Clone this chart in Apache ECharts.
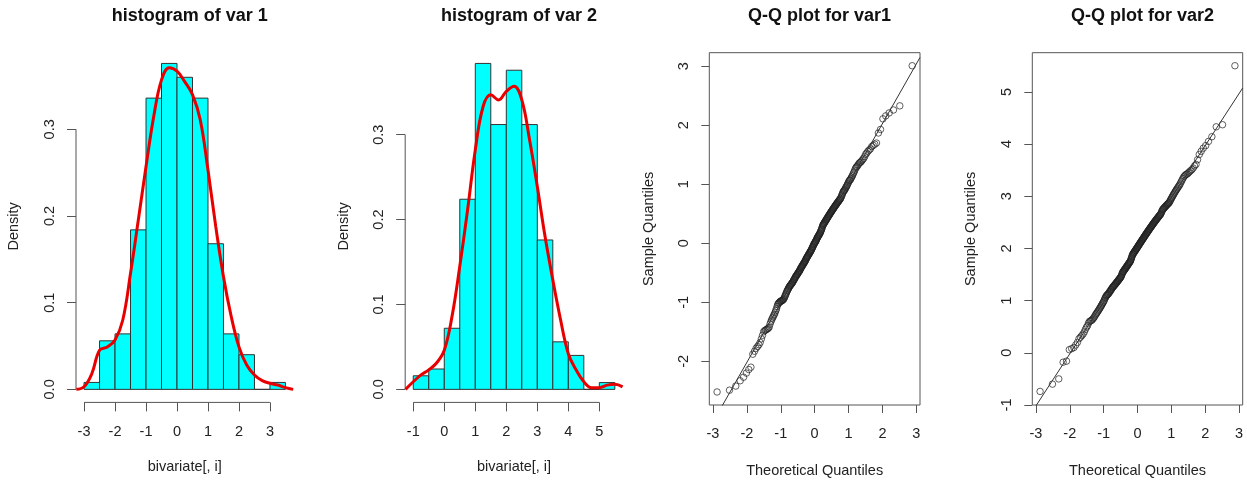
<!DOCTYPE html>
<html>
<head>
<meta charset="UTF-8">
<script src="https://cdn.jsdelivr.net/npm/echarts@6.0.0/dist/echarts.min.js"></script>
<title>histograms and Q-Q plots</title>
<style>
html, body { margin: 0; padding: 0; background: #fff; }
#main { width: 1247px; height: 483px; }
</style>
</head>
<body>
<div id="main"></div>
<script>
// ---- data ----
// histogram bin edges and densities (bin width 0.5)
var breaks1 = [-3, -2.5, -2, -1.5, -1, -0.5, 0, 0.5, 1, 1.5, 2, 2.5, 3, 3.5];
var density1 = [0.008, 0.056, 0.064, 0.184, 0.336, 0.376, 0.36, 0.336, 0.168, 0.064, 0.04, 0, 0.008];
var breaks2 = [-1, -0.5, 0, 0.5, 1, 1.5, 2, 2.5, 3, 3.5, 4, 4.5, 5, 5.5];
var density2 = [0.016, 0.024, 0.072, 0.224, 0.384, 0.312, 0.376, 0.312, 0.176, 0.056, 0.04, 0, 0.008];

// red kernel density curves
var kdeX1 = [-3.25, -3, -2.75, -2.5, -2.25, -2, -1.75, -1.5, -1.25, -1, -0.75, -0.5, -0.25, 0, 0.25, 0.5, 0.75, 1, 1.25, 1.5, 1.75, 2, 2.25, 2.5, 2.75, 3, 3.25, 3.5, 3.75];
var kdeY1 = [0, 0.003, 0.018, 0.045, 0.049, 0.057, 0.08, 0.134, 0.195, 0.257, 0.315, 0.357, 0.371, 0.367, 0.355, 0.34, 0.311, 0.253, 0.188, 0.13, 0.084, 0.049, 0.028, 0.0165, 0.01, 0.007, 0.005, 0.002, 0];
var kdeX2 = [-1.25, -1, -0.75, -0.5, -0.25, 0, 0.25, 0.5, 0.75, 1, 1.25, 1.5, 1.75, 2, 2.25, 2.5, 2.75, 3, 3.25, 3.5, 3.75, 4, 4.25, 4.5, 4.75, 5, 5.25, 5.5, 5.75];
var kdeY2 = [0, 0.009, 0.017, 0.023, 0.031, 0.046, 0.086, 0.145, 0.211, 0.282, 0.333, 0.347, 0.341, 0.351, 0.357, 0.341, 0.294, 0.239, 0.18, 0.129, 0.082, 0.042, 0.023, 0.009, 0.002, 0.002, 0.005, 0.006, 0.003];

// sorted samples shown in the Q-Q plots (250 values each)
var sample1 = [
  -2.52, -2.49, -2.42, -2.33, -2.27, -2.2, -2.14, -2.1, -1.88, -1.83,
  -1.78, -1.75, -1.72, -1.68, -1.62, -1.56, -1.5, -1.48, -1.47, -1.46,
  -1.45, -1.44, -1.42, -1.37, -1.33, -1.3, -1.27, -1.25, -1.22, -1.2,
  -1.17, -1.14, -1.11, -1.07, -1.04, -1.02, -1.01, -1.0, -0.99, -0.98,
  -0.98, -0.97, -0.97, -0.96, -0.95, -0.94, -0.92, -0.9, -0.88, -0.86,
  -0.84, -0.82, -0.8, -0.79, -0.77, -0.76, -0.74, -0.73, -0.72, -0.71,
  -0.7, -0.69, -0.68, -0.67, -0.66, -0.65, -0.63, -0.62, -0.61, -0.6,
  -0.58, -0.57, -0.56, -0.55, -0.54, -0.53, -0.52, -0.51, -0.5, -0.49,
  -0.48, -0.47, -0.46, -0.45, -0.43, -0.42, -0.41, -0.4, -0.39, -0.38,
  -0.37, -0.36, -0.35, -0.34, -0.33, -0.32, -0.31, -0.3, -0.29, -0.27,
  -0.26, -0.25, -0.24, -0.23, -0.22, -0.21, -0.2, -0.19, -0.18, -0.17,
  -0.16, -0.15, -0.14, -0.13, -0.12, -0.11, -0.1, -0.08, -0.07, -0.06,
  -0.05, -0.03, -0.02, -0.01, 0.0, 0.01, 0.02, 0.03, 0.04, 0.05,
  0.06, 0.08, 0.09, 0.1, 0.11, 0.12, 0.13, 0.14, 0.15, 0.16,
  0.17, 0.18, 0.2, 0.21, 0.23, 0.24, 0.26, 0.28, 0.3, 0.31,
  0.32, 0.33, 0.34, 0.35, 0.36, 0.37, 0.38, 0.39, 0.4, 0.41,
  0.42, 0.43, 0.44, 0.45, 0.46, 0.47, 0.48, 0.49, 0.5, 0.51,
  0.52, 0.53, 0.54, 0.55, 0.56, 0.57, 0.58, 0.59, 0.6, 0.61,
  0.62, 0.63, 0.64, 0.65, 0.66, 0.67, 0.68, 0.69, 0.7, 0.71,
  0.72, 0.73, 0.74, 0.75, 0.76, 0.78, 0.8, 0.82, 0.84, 0.86,
  0.88, 0.89, 0.9, 0.91, 0.93, 0.95, 0.96, 0.98, 1.0, 1.02,
  1.04, 1.06, 1.07, 1.08, 1.1, 1.12, 1.14, 1.16, 1.19, 1.21,
  1.24, 1.27, 1.29, 1.3, 1.32, 1.34, 1.36, 1.37, 1.38, 1.4,
  1.42, 1.44, 1.47, 1.51, 1.53, 1.56, 1.58, 1.6, 1.64, 1.66,
  1.68, 1.7, 1.87, 1.93, 2.11, 2.16, 2.21, 2.26, 2.33, 3.01
];
var sample2 = [
  -0.74, -0.6, -0.5, -0.18, -0.16, 0.06, 0.08, 0.1, 0.15, 0.2,
  0.27, 0.3, 0.33, 0.36, 0.4, 0.45, 0.49, 0.52, 0.57, 0.6,
  0.61, 0.62, 0.63, 0.65, 0.67, 0.69, 0.72, 0.74, 0.76, 0.78,
  0.8, 0.82, 0.84, 0.86, 0.88, 0.9, 0.92, 0.94, 0.96, 0.98,
  1.0, 1.03, 1.05, 1.07, 1.09, 1.1, 1.11, 1.12, 1.13, 1.14,
  1.16, 1.17, 1.18, 1.2, 1.21, 1.22, 1.24, 1.25, 1.26, 1.27,
  1.28, 1.29, 1.3, 1.31, 1.32, 1.33, 1.34, 1.35, 1.36, 1.37,
  1.38, 1.39, 1.4, 1.41, 1.42, 1.43, 1.44, 1.45, 1.46, 1.48,
  1.5, 1.52, 1.54, 1.55, 1.56, 1.57, 1.58, 1.59, 1.6, 1.61,
  1.62, 1.63, 1.64, 1.65, 1.66, 1.67, 1.68, 1.69, 1.7, 1.71,
  1.72, 1.73, 1.74, 1.75, 1.76, 1.78, 1.8, 1.82, 1.84, 1.86,
  1.88, 1.89, 1.9, 1.91, 1.92, 1.93, 1.94, 1.95, 1.96, 1.97,
  1.98, 1.99, 2.0, 2.01, 2.02, 2.03, 2.04, 2.05, 2.06, 2.07,
  2.08, 2.09, 2.1, 2.11, 2.12, 2.13, 2.14, 2.15, 2.16, 2.17,
  2.18, 2.19, 2.2, 2.21, 2.22, 2.23, 2.24, 2.25, 2.26, 2.27,
  2.28, 2.29, 2.3, 2.31, 2.32, 2.33, 2.34, 2.35, 2.36, 2.37,
  2.38, 2.39, 2.4, 2.41, 2.42, 2.43, 2.44, 2.45, 2.46, 2.47,
  2.48, 2.49, 2.5, 2.51, 2.52, 2.53, 2.54, 2.55, 2.56, 2.57,
  2.58, 2.59, 2.6, 2.61, 2.62, 2.63, 2.64, 2.65, 2.66, 2.68,
  2.7, 2.72, 2.74, 2.75, 2.76, 2.77, 2.78, 2.79, 2.8, 2.81,
  2.82, 2.83, 2.84, 2.85, 2.86, 2.87, 2.88, 2.9, 2.92, 2.94,
  2.96, 2.98, 3.0, 3.02, 3.04, 3.06, 3.08, 3.1, 3.12, 3.14,
  3.16, 3.18, 3.2, 3.22, 3.25, 3.28, 3.31, 3.34, 3.37, 3.39,
  3.41, 3.42, 3.43, 3.45, 3.47, 3.49, 3.51, 3.54, 3.58, 3.61,
  3.7, 3.8, 3.86, 3.92, 3.97, 4.05, 4.14, 4.33, 4.37, 5.5
];

// tick labels
var histTicksX1 = [-3, -2, -1, 0, 1, 2, 3];
var histTicksX2 = [-1, 0, 1, 2, 3, 4, 5];
var densityTicks = [0, 0.1, 0.2, 0.3];
var qqTicksX = [-3, -2, -1, 0, 1, 2, 3];
var qqTicksY1 = [-2, -1, 0, 1, 2, 3];
var qqTicksY2 = [-1, 0, 1, 2, 3, 4, 5];

var titles = ['histogram of var 1', 'histogram of var 2', 'Q-Q plot for var1', 'Q-Q plot for var2'];

// ---- helpers ----
var FONT = 'Liberation Sans, Arial, sans-serif';
var AXIS_COL = '#555';
var TEXT_COL = '#222';
var FS = 14.5;

// inverse normal cdf (Acklam), like R's qnorm
function qnorm(p) {
  var a = [-39.69683028665376, 220.9460984245205, -275.9285104469687, 138.3577518672690, -30.66479806614716, 2.506628277459239];
  var b = [-54.47609879822406, 161.5858368580409, -155.6989798598866, 66.80131188771972, -13.28068155288572];
  var c = [-0.007784894002430293, -0.3223964580411365, -2.400758277161838, -2.549732539343734, 4.374664141464968, 2.938163982698783];
  var d = [0.007784695709041462, 0.3224671290700398, 2.445134137142996, 3.754408661907416];
  var q, r;
  if (p < 0.02425) {
    q = Math.sqrt(-2 * Math.log(p));
    return (((((c[0] * q + c[1]) * q + c[2]) * q + c[3]) * q + c[4]) * q + c[5]) /
      ((((d[0] * q + d[1]) * q + d[2]) * q + d[3]) * q + 1);
  }
  if (p > 1 - 0.02425) return -qnorm(1 - p);
  q = p - 0.5; r = q * q;
  return (((((a[0] * r + a[1]) * r + a[2]) * r + a[3]) * r + a[4]) * r + a[5]) * q /
    (((((b[0] * r + b[1]) * r + b[2]) * r + b[3]) * r + b[4]) * r + 1);
}

// quantile type 7
function quant(sorted, p) {
  var h = (sorted.length - 1) * p, lo = Math.floor(h);
  return sorted[lo] + (h - lo) * (sorted[lo + 1] - sorted[lo]);
}

function qqPoints(s) {
  var n = s.length;
  return s.map(function (v, i) { return [qnorm((i + 0.5) / n), v]; });
}

function qqLine(s, xmin, xmax) {
  var y1 = quant(s, 0.25), y2 = quant(s, 0.75);
  var x1 = qnorm(0.25), x2 = qnorm(0.75);
  var slope = (y2 - y1) / (x2 - x1);
  var inter = y1 - slope * x1;
  return [[xmin, inter + slope * xmin], [xmax, inter + slope * xmax]];
}

function binData(breaks, dens) {
  return dens.map(function (d, i) { return [breaks[i], breaks[i + 1], d]; });
}

function renderBar(params, api) {
  var p0 = api.coord([api.value(0), api.value(2)]);
  var p1 = api.coord([api.value(1), 0]);
  return {
    type: 'rect',
    shape: { x: p0[0], y: p0[1], width: p1[0] - p0[0], height: p1[1] - p0[1] },
    style: { fill: '#00ffff', stroke: '#333', lineWidth: 1 }
  };
}

function zip(xs, ys) {
  return xs.map(function (x, i) { return [x, ys[i]]; });
}

function valueAxis(idx, min, max, ticks, opts) {
  return {
    type: 'value', gridIndex: idx, min: min, max: max,
    axisLine: { show: false, onZero: false },
    splitLine: { show: false },
    axisTick: { show: true, inside: false, length: opts.tick, customValues: ticks, lineStyle: { color: AXIS_COL, width: 1 } },
    axisLabel: { customValues: ticks, margin: opts.margin, fontSize: FS, color: TEXT_COL, fontFamily: FONT, rotate: opts.rotate || 0, formatter: opts.fmt },
    name: opts.name, nameLocation: 'middle', nameGap: opts.gap,
    nameTextStyle: { fontSize: FS, color: TEXT_COL, fontFamily: FONT }
  };
}

// plot-region limits (R extends data range by 4%)
var h1 = { xmin: -3.26, xmax: 3.76, ymin: -0.01504, ymax: 0.39104 };
var h2 = { xmin: -1.26, xmax: 5.76, ymin: -0.01536, ymax: 0.39936 };
var q1 = { xmin: -3.108, xmax: 3.108, ymin: -2.741, ymax: 3.231 };
var q2 = { xmin: -3.108, xmax: 3.108, ymin: -1.0, ymax: 5.75 };

var grids = [
  { left: 76, top: 50.4, width: 217.5, height: 352 },
  { left: 405.2, top: 50.4, width: 217.7, height: 352 },
  { left: 709.3, top: 52.7, width: 210.7, height: 355, show: true, borderColor: AXIS_COL, borderWidth: 1 },
  { left: 1032.3, top: 52.7, width: 210.4, height: 355, show: true, borderColor: AXIS_COL, borderWidth: 1 }
];
var titleCenters = [184.7, 514, 814.6, 1137.5];

var fmt1 = function (v) { return v.toFixed(1); };
var fmt0 = function (v) { return String(v); };

var option = {
  backgroundColor: '#fff',
  animation: false,
  title: titles.map(function (t, i) {
    return {
      text: t, left: titleCenters[i], top: 2, textAlign: 'center',
      textStyle: { fontSize: 18, fontWeight: 'bold', color: '#111', fontFamily: FONT }
    };
  }),
  grid: grids,
  xAxis: [
    valueAxis(0, h1.xmin, h1.xmax, histTicksX1, { tick: 9, margin: 22, name: 'bivariate[, i]', gap: 57, fmt: fmt0 }),
    valueAxis(1, h2.xmin, h2.xmax, histTicksX2, { tick: 9, margin: 22, name: 'bivariate[, i]', gap: 57, fmt: fmt0 }),
    valueAxis(2, q1.xmin, q1.xmax, qqTicksX, { tick: 8, margin: 21, name: 'Theoretical Quantiles', gap: 58, fmt: fmt0 }),
    valueAxis(3, q2.xmin, q2.xmax, qqTicksX, { tick: 8, margin: 21, name: 'Theoretical Quantiles', gap: 58, fmt: fmt0 })
  ],
  yAxis: [
    valueAxis(0, h1.ymin, h1.ymax, densityTicks, { tick: 9, margin: 19, rotate: 90, name: 'Density', gap: 55, fmt: fmt1 }),
    valueAxis(1, h2.ymin, h2.ymax, densityTicks, { tick: 9, margin: 19, rotate: 90, name: 'Density', gap: 54, fmt: fmt1 }),
    valueAxis(2, q1.ymin, q1.ymax, qqTicksY1, { tick: 8, margin: 18, rotate: 90, name: 'Sample Quantiles', gap: 53, fmt: fmt0 }),
    valueAxis(3, q2.ymin, q2.ymax, qqTicksY2, { tick: 8, margin: 18, rotate: 90, name: 'Sample Quantiles', gap: 54, fmt: fmt0 })
  ],
  series: [
    { type: 'custom', xAxisIndex: 0, yAxisIndex: 0, renderItem: renderBar, data: binData(breaks1, density1), silent: true },
    { type: 'custom', xAxisIndex: 1, yAxisIndex: 1, renderItem: renderBar, data: binData(breaks2, density2), silent: true },
    // R-style axis lines running from first to last tick
    { type: 'line', xAxisIndex: 0, yAxisIndex: 0, clip: false, silent: true, symbol: 'none',
      lineStyle: { color: AXIS_COL, width: 1 },
      data: [[histTicksX1[0], h1.ymin], [histTicksX1[histTicksX1.length - 1], h1.ymin]] },
    { type: 'line', xAxisIndex: 0, yAxisIndex: 0, clip: false, silent: true, symbol: 'none',
      lineStyle: { color: AXIS_COL, width: 1 },
      data: [[h1.xmin, densityTicks[0]], [h1.xmin, densityTicks[densityTicks.length - 1]]] },
    { type: 'line', xAxisIndex: 1, yAxisIndex: 1, clip: false, silent: true, symbol: 'none',
      lineStyle: { color: AXIS_COL, width: 1 },
      data: [[histTicksX2[0], h2.ymin], [histTicksX2[histTicksX2.length - 1], h2.ymin]] },
    { type: 'line', xAxisIndex: 1, yAxisIndex: 1, clip: false, silent: true, symbol: 'none',
      lineStyle: { color: AXIS_COL, width: 1 },
      data: [[h2.xmin, densityTicks[0]], [h2.xmin, densityTicks[densityTicks.length - 1]]] },
    { type: 'line', xAxisIndex: 0, yAxisIndex: 0, smooth: 0.4, showSymbol: false, symbol: 'none', clip: true,
      lineStyle: { color: '#e80000', width: 3 }, data: zip(kdeX1, kdeY1) },
    { type: 'line', xAxisIndex: 1, yAxisIndex: 1, smooth: 0.4, showSymbol: false, symbol: 'none', clip: true,
      lineStyle: { color: '#e80000', width: 3 }, data: zip(kdeX2, kdeY2) },
    { type: 'scatter', xAxisIndex: 2, yAxisIndex: 2, symbol: 'circle', symbolSize: 6.5, silent: true,
      itemStyle: { color: 'rgba(0,0,0,0)', borderColor: '#222', borderWidth: 0.9 }, data: qqPoints(sample1) },
    { type: 'scatter', xAxisIndex: 3, yAxisIndex: 3, symbol: 'circle', symbolSize: 6.5, silent: true,
      itemStyle: { color: 'rgba(0,0,0,0)', borderColor: '#222', borderWidth: 0.9 }, data: qqPoints(sample2) },
    { type: 'line', xAxisIndex: 2, yAxisIndex: 2, clip: true, silent: true, symbol: 'none',
      lineStyle: { color: '#333', width: 1 }, data: qqLine(sample1, q1.xmin, q1.xmax) },
    { type: 'line', xAxisIndex: 3, yAxisIndex: 3, clip: true, silent: true, symbol: 'none',
      lineStyle: { color: '#333', width: 1 }, data: qqLine(sample2, q2.xmin, q2.xmax) }
  ]
};

var chart = echarts.init(document.getElementById('main'), null, { renderer: 'canvas' });
chart.setOption(option);
</script>
</body>
</html>
